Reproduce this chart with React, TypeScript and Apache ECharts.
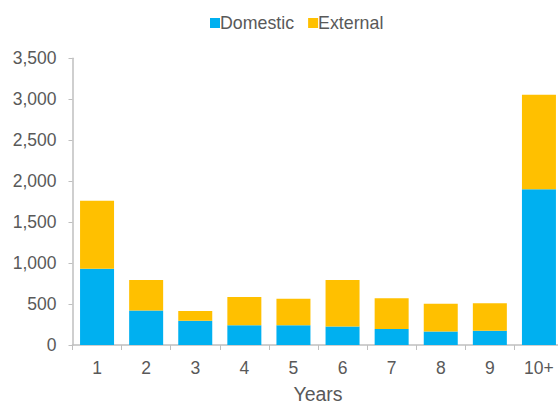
import React, { useEffect, useRef } from "react";
import * as echarts from "echarts";

const categories = ["1", "2", "3", "4", "5", "6", "7", "8", "9", "10+"];
const domestic = [930, 420, 295, 240, 240, 225, 195, 165, 175, 1900];
const external = [830, 375, 120, 345, 325, 570, 375, 340, 335, 1155];
const yTicks = { min: 0, max: 3500, interval: 500 };

export default function App() {
  const ref = useRef<HTMLDivElement>(null);
  useEffect(() => {
    document.body.style.margin = "0";
    const chart = echarts.init(ref.current!, null, { renderer: "svg", width: 558, height: 404 });
    const font = "Liberation Sans";
    chart.setOption({
      animation: false,
      textStyle: { fontFamily: font },
      legend: {
        top: 9,
        left: 205,
        itemWidth: 10,
        itemHeight: 10,
        itemGap: 14,
        icon: "rect",
        textStyle: { fontSize: 17.8, color: "#595959", fontFamily: font, padding: [0, 0, 0, -5] },
        data: ["Domestic", "External"],
      },
      grid: {
        left: 72.5,
        top: 58.3,
        width: 491,
        height: 286.7,
        containLabel: false,
        outerBoundsMode: "none",
      },
      xAxis: {
        type: "category",
        data: categories,
        name: "Years",
        nameLocation: "middle",
        nameGap: 39,
        nameTextStyle: { fontSize: 19.5, color: "#595959", fontFamily: font },
        axisLine: { lineStyle: { color: "#BFBFBF", width: 1.5 } },
        axisTick: { show: true, length: 5, lineStyle: { color: "#BFBFBF" } },
        axisLabel: { fontSize: 17.5, color: "#595959", margin: 14, fontFamily: font },
      },
      yAxis: {
        type: "value",
        min: yTicks.min,
        max: yTicks.max,
        interval: yTicks.interval,
        splitLine: { show: false },
        axisLine: { show: true, lineStyle: { color: "#BFBFBF", width: 1.5 } },
        axisTick: { show: true, length: 4, lineStyle: { color: "#BFBFBF" } },
        axisLabel: {
          fontSize: 17.5,
          color: "#595959",
          margin: 16,
          fontFamily: font,
          formatter: (v: number) => v.toLocaleString("en-US"),
        },
      },
      series: [
        {
          name: "Domestic",
          type: "bar",
          stack: "t",
          barWidth: 34,
          data: domestic,
          itemStyle: { color: "#00B0F0" },
        },
        {
          name: "External",
          type: "bar",
          stack: "t",
          barWidth: 34,
          data: external,
          itemStyle: { color: "#FFC000" },
        },
      ],
    });
    return () => chart.dispose();
  }, []);
  return <div ref={ref} style={{ width: 558, height: 404, background: "#fff", overflow: "hidden" }} />;
}
